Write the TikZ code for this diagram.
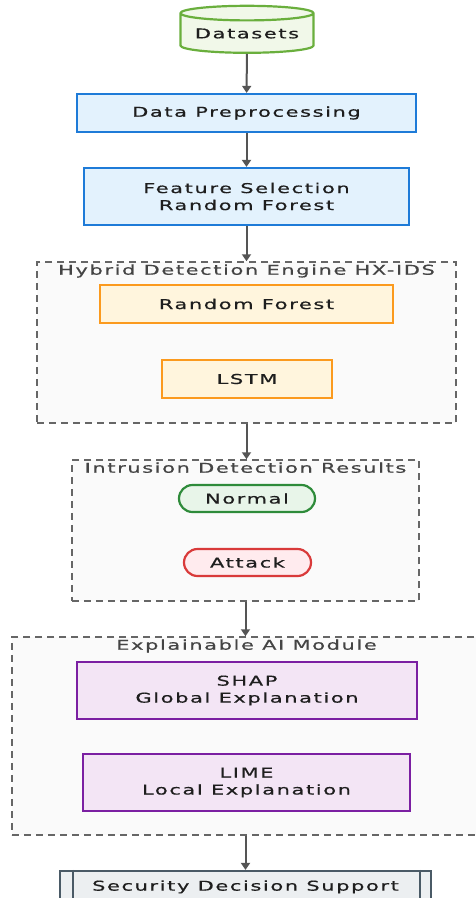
\documentclass[tikz,border=0pt]{standalone}
\usepackage{fontspec}
\setmainfont[FakeStretch=1.55,LetterSpace=12,FakeBold=0.6]{DejaVu Sans}
\usetikzlibrary{shapes.geometric}
\usetikzlibrary{shapes.misc}
\usetikzlibrary{arrows.meta}

\definecolor{txt}{HTML}{1E1E1E}
\definecolor{grptxt}{HTML}{444444}
\definecolor{arr}{HTML}{555555}
\definecolor{dataline}{HTML}{6AAF3D}
\definecolor{datafill}{HTML}{F1F8E9}
\definecolor{blueline}{HTML}{1E7BD8}
\definecolor{bluefill}{HTML}{E3F2FD}
\definecolor{orangeline}{HTML}{FB9A1E}
\definecolor{orangefill}{HTML}{FFF5DD}
\definecolor{normalline}{HTML}{2E8B3A}
\definecolor{normalfill}{HTML}{E8F5E9}
\definecolor{attackline}{HTML}{D93A3A}
\definecolor{attackfill}{HTML}{FFEBEE}
\definecolor{purpleline}{HTML}{7B1FA2}
\definecolor{purplefill}{HTML}{F3E5F5}
\definecolor{secline}{HTML}{4A5A66}
\definecolor{secfill}{HTML}{ECEFF1}

\tikzset{
    base/.style={draw, line width=2.2pt, text=txt, font=\fontsize{13.5}{17}\selectfont, align=center, inner sep=0pt},
    bluebox/.style={base, draw=blueline, fill=bluefill, rectangle},
    orangebox/.style={base, draw=orangeline, fill=orangefill, rectangle},
    purplebox/.style={base, draw=purpleline, fill=purplefill, rectangle},
    pill/.style={base, rounded rectangle, minimum height=27pt},
    grp/.style={draw=gray!80!black, line width=1.5pt, dash pattern=on 7pt off 5pt, fill=gray!4, rectangle, inner sep=0pt},
    grptitle/.style={text=grptxt, font=\fontsize{13.5}{15}\selectfont, anchor=north, inner sep=0pt},
    flow/.style={draw=arr, line width=2pt, -{Triangle[length=7pt,width=9pt]}},
}

\begin{document}
\begin{tikzpicture}[x=1pt,y=1pt]
    \useasboundingbox (0,0) rectangle (476,-898);

    % groups
    \node[grp, minimum width=419pt, minimum height=161pt] (engine) at (246.5,-342.5) {};
    \node[grptitle] at ([yshift=-3pt]engine.north) {Hybrid Detection Engine HX-IDS};
    \node[grp, minimum width=347pt, minimum height=141pt] (results) at (245.5,-530.5) {};
    \node[grptitle] at ([yshift=-3pt]results.north) {Intrusion Detection Results};
    \node[grp, minimum width=474pt, minimum height=198pt] (xai) at (249,-736) {};
    \node[grptitle] at ([yshift=-3pt,xshift=-2.5pt]xai.north) {Explainable AI Module};

    % pipeline
    \node[base, cylinder, shape border rotate=90, aspect=0.14, draw=dataline, fill=datafill,
          minimum width=133pt, minimum height=47pt] (data) at (247,-33.5) {\raisebox{-3pt}{Datasets}};
    \node[bluebox, minimum width=339pt, minimum height=38pt] (prep) at (246.5,-113) {Data Preprocessing};
    \node[bluebox, minimum width=325pt, minimum height=57pt] (feat) at (246.5,-196.5) {Feature Selection\\Random Forest};

    \node[orangebox, minimum width=293pt, minimum height=38pt] (rf) at (246.5,-304) {Random Forest};
    \node[orangebox, minimum width=170pt, minimum height=38pt] (lstm) at (247,-379) {LSTM};

    \node[pill, draw=normalline, fill=normalfill, minimum width=136pt] (normal) at (247,-498.5) {Normal};
    \node[pill, draw=attackline, fill=attackfill, minimum width=127pt] (attack) at (247.5,-562.5) {Attack};

    \node[purplebox, minimum width=340pt, minimum height=57pt] (shap) at (247,-690.5) {SHAP\\Global Explanation};
    \node[purplebox, minimum width=327pt, minimum height=57pt] (lime) at (246.5,-782.5) {LIME\\Local Explanation};

    \node[base, rectangle, draw=secline, fill=secfill, minimum width=371pt, minimum height=38pt] (sec) at (245.5,-890) {\raisebox{9pt}{Security Decision Support}};
    \draw[line width=2.2pt, draw=secline] ([xshift=14pt]sec.north west) -- ([xshift=14pt]sec.south west);
    \draw[line width=2.2pt, draw=secline] ([xshift=-12pt]sec.north east) -- ([xshift=-12pt]sec.south east);

    % connectors
    \draw[flow] (data) -- (prep);
    \draw[flow] (prep) -- (feat);
    \draw[flow] (feat) -- (engine);
    \draw[flow] (engine.south) -- (engine.south |- results.north);
    \draw[flow] (results.south) -- (results.south |- xai.north);
    \draw[flow] (sec.north |- xai.south) -- (sec);
\end{tikzpicture}
\end{document}
